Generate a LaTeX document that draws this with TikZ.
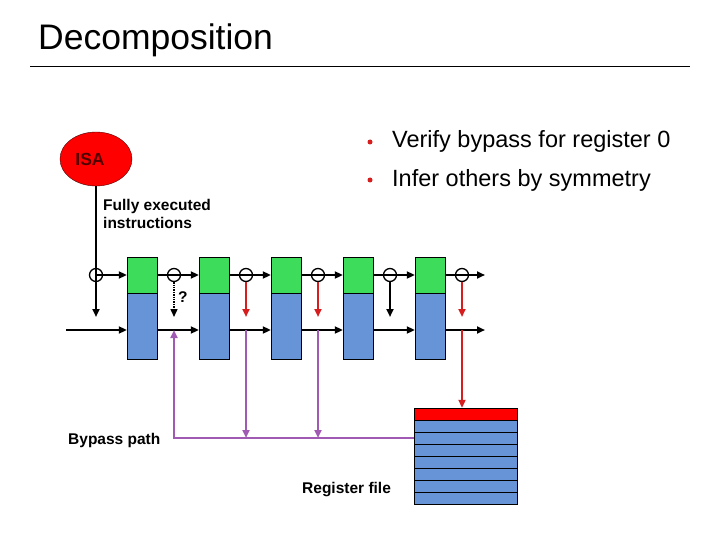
\documentclass[tikz,border=0pt]{standalone}
\usepackage{fontspec}
\setmainfont{Liberation Sans}
\usetikzlibrary{arrows.meta,shapes.geometric,positioning}
\definecolor{stagegreen}{RGB}{61,220,90}
\definecolor{stageblue}{RGB}{102,148,214}
\definecolor{bypasspurple}{RGB}{160,90,180}
\definecolor{wbred}{RGB}{215,30,30}
\definecolor{isatext}{RGB}{80,0,0}
\tikzset{%
	stage top/.style={
		rectangle,
		draw=black,
		fill=stagegreen,
		minimum height=36pt,
		minimum width=30pt,
		inner sep=0pt
	},
	stage bot/.style={
		stage top,
		fill=stageblue,
		minimum height=66pt
	},
	tap point/.style={
		circle,
		draw=black,
		line width=1.3pt,
		minimum size=13pt,
		inner sep=0pt
	},
	reg row/.style={
		rectangle,
		draw=black,
		fill=stageblue,
		minimum height=12pt,
		minimum width=103pt,
		inner sep=0pt
	},
	isa bubble/.style={
		ellipse,
		draw=black!70!red,
		fill=red,
		minimum width=72pt,
		minimum height=54pt,
		text=isatext,
		font=\fontsize{17.5}{20}\selectfont\bfseries
	},
	label text/.style={
		inner sep=0pt,
		font=\fontsize{15.5}{18}\selectfont\bfseries
	},
	pipe/.style={line width=2pt},
	pipe arrow/.style={pipe, -{Triangle[length=8pt,width=7pt]}},
	bypass arrow/.style={line width=2pt, draw=bypasspurple, -{Triangle[length=8pt,width=7pt]}},
}

\begin{document}
\begin{tikzpicture}[x=1pt,y=-1pt]
		\useasboundingbox (0,0) rectangle (720,540);
		% Title
		\node[anchor=base west, inner sep=0pt, font=\fontsize{35.5}{40}\selectfont] (title) at (38,50) {Decomposition};
		\draw[line width=1pt] (30,67) -- (690,67);
		
		% Bullets
		\foreach \t [count=\y] in {Verify bypass for register 0, Infer others by symmetry} {
		\node[circle, fill=wbred, inner sep=0pt, minimum size=5pt] (dot-\y) at (370,104+38*\y) {};
		\node[anchor=base west, inner sep=0pt, font=\fontsize{23.5}{28}\selectfont] (item-\y) at (392,109+39*\y) {\t};
		}
		
		% ISA
		\node[isa bubble] (isa) at (96,159) {\hspace*{-12pt}ISA};
		\node[label text, anchor=north west, align=left] (fully) at (103,199) {Fully executed\\instructions};
		
		% Stages
		\foreach \m in {1,2,...,5} {
		\node [stage top] (stage-top-\m) at (142+72*\m-72,275) {};
		\node [stage bot, below=0pt of stage-top-\m] (stage-bot-\m) {};
		}
		\foreach \x [count=\m] in {96,174,246,318,390,462}
		\node [tap point] (tap-\m) at (\x,275) {};
		
		% Register file
		\node [reg row, fill=red] (reg-1) at (465.5,414) {};
		\foreach \r in {2,3,...,8}
		\node [reg row] (reg-\r) at (465.5,402+12*\r) {};
		
		% Labels
		\node[label text, anchor=base west] (qmark) at (178,302) {?};
		\node[label text, anchor=base west] (bypass-label) at (68,444) {Bypass path};
		\node[label text, anchor=base west] (regfile-label) at (302,493) {Register file};
		
		%Edges
		\coordinate (bus-start) at (66,330);
		\coordinate (bus-end) at (485,330);
		\coordinate (top-end) at (485,275);
		\coordinate (drop-level) at (0,317);
		
		\draw[pipe] (isa) -- (tap-1.center);
		\draw[pipe arrow] (tap-1.center) -- (stage-top-1);
		\foreach \m [evaluate=\m as \n using int(\m+1)] in {1,2,...,4} {
		\draw[pipe] (stage-top-\m) -- (tap-\n.center);
		\draw[pipe arrow] (tap-\n.center) -- (stage-top-\n);
		}
		\draw[pipe] (stage-top-5) -- (tap-6.center);
		\draw[pipe arrow] (tap-6.center) -- (top-end);
		
		\draw[pipe arrow] (bus-start) -- (bus-start -| stage-bot-1.west);
		\foreach \m [evaluate=\m as \n using int(\m+1)] in {1,2,...,4}
		\draw[pipe arrow] (bus-start -| stage-bot-\m.east) -- (bus-start -| stage-bot-\n.west);
		\draw[pipe arrow] (bus-start -| stage-bot-5.east) -- (bus-end);
		
		\draw[pipe arrow] (tap-1.center) -- (tap-1 |- drop-level);
		\draw[pipe arrow, line width=1.4pt, densely dotted] (tap-2) -- (tap-2 |- drop-level);
		\foreach \m/\c in {3/wbred,4/wbred,5/black,6/wbred}
		\draw[pipe arrow, draw=\c, fill=\c] (tap-\m) -- (tap-\m |- drop-level);
		
		\draw[bypass arrow] (reg-3.west) -| (tap-2 |- bus-start);
		\foreach \m in {3,4}
		\draw[bypass arrow] (tap-\m |- bus-start) -- (tap-\m |- reg-3.west);
		\draw[pipe arrow, draw=wbred, fill=wbred] (tap-6 |- bus-start) -- (tap-6 |- reg-1.north);
		
		\end{tikzpicture}
\end{document}
